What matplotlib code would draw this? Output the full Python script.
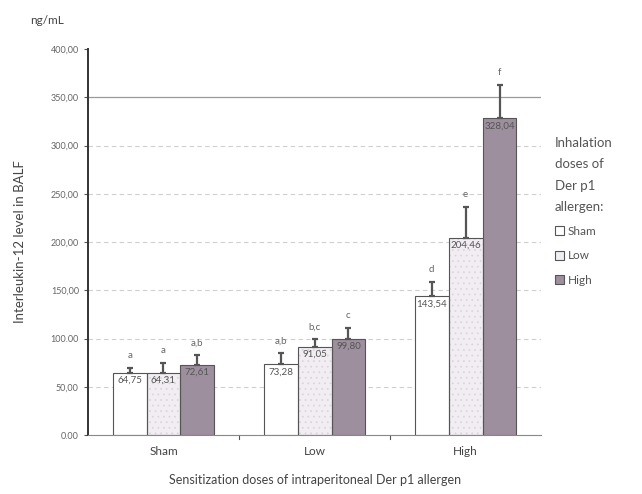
import numpy as np
import matplotlib
matplotlib.use('Agg')
import matplotlib.pyplot as plt
from matplotlib.patches import Patch

plt.rcParams['font.family'] = ['Lato', 'DejaVu Sans']
plt.rcParams['hatch.linewidth'] = 0.5

groups = ['Sham', 'Low', 'High']
series = ['Sham', 'Low', 'High']
means = {
    'Sham': [64.75, 73.28, 143.54],
    'Low': [64.31, 91.05, 204.46],
    'High': [72.61, 99.80, 328.04],
}
errs = {
    'Sham': [4.7, 11.7, 15.0],
    'Low': [10.3, 8.4, 31.8],
    'High': [10.3, 11.1, 34.7],
}
value_labels = {
    'Sham': ['64,75', '73,28', '143,54'],
    'Low': ['64,31', '91,05', '204,46'],
    'High': ['72,61', '99,80', '328,04'],
}
letters = {
    'Sham': ['a', 'a,b', 'd'],
    'Low': ['a', 'b,c', 'e'],
    'High': ['a,b', 'c', 'f'],
}
yticks = [0, 50, 100, 150, 200, 250, 300, 350, 400]
ytick_labels = ['0.00', '50,00', '100.00', '150,00', '200,00', '250,00',
                '300,00', '350,00', '400,00']

colors = {'Sham': 'white', 'Low': '#f1edf2', 'High': '#9d8f9e'}
hatches = {'Sham': None, 'Low': '...', 'High': None}
hatch_col = '#d9d3db'

fig = plt.figure(figsize=(6.42, 4.94), dpi=100)
ax = fig.add_axes([0.137, 0.1194, 0.706, 0.7814])

x = np.arange(len(groups))
w = 0.224
ink = '#555555'

for yv in yticks[1:-1]:
    if yv == 350:
        ax.axhline(yv, color='#9a9a9a', lw=0.9, zorder=0)
    else:
        ax.axhline(yv, color='#cfcfcf', lw=0.8, ls=(0, (4, 3)), zorder=0)

for i, s in enumerate(series):
    xs = x + (i - 1) * w
    # fill (with light stipple), then a separate outline on top
    ax.bar(xs, means[s], w, color=colors[s], edgecolor=hatch_col, lw=0,
           hatch=hatches[s], zorder=2)
    ax.bar(xs, means[s], w, fill=False, edgecolor=ink, lw=0.8, zorder=2.5)
    ax.errorbar(xs, means[s], yerr=[np.zeros(3), errs[s]], fmt='none',
                ecolor=ink, elinewidth=1.6, capsize=2.5, capthick=1.6, zorder=3)
    for xi, m, e, vl, lt in zip(xs, means[s], errs[s], value_labels[s], letters[s]):
        ax.text(xi, m - 3, vl, ha='center', va='top', fontsize=7,
                color='#555555', zorder=4)
        ax.text(xi, m + e + 8, lt, ha='center', va='bottom', fontsize=7,
                color='#666666')

ax.set_xlim(-0.5, 2.5)
ax.set_ylim(0, 400)
ax.set_yticks(yticks)
ax.set_yticklabels(ytick_labels, fontsize=6.5, color='#666666')
ax.set_xticks(x)
ax.set_xticklabels(groups, fontsize=8.5, color='#444444')
ax.tick_params(axis='x', length=0, pad=8)
ax.tick_params(axis='y', length=3, color=ink, direction='out')
for xb in [0.5, 1.5]:
    ax.plot([xb, xb], [0, -4], color=ink, lw=0.8, clip_on=False)

for sp in ['top', 'right']:
    ax.spines[sp].set_visible(False)
ax.spines['left'].set_color('#333333')
ax.spines['left'].set_linewidth(1.4)
ax.spines['bottom'].set_color('#888888')

ax.set_ylabel('Interleukin-12 level in BALF', fontsize=9.5, color='#444444',
              labelpad=18)
ax.set_xlabel('Sensitization doses of intraperitoneal Der p1 allergen',
              fontsize=9, color='#444444', labelpad=12)
fig.text(0.047, 0.958, 'ng/mL', fontsize=8.5, color='#444444', va='center')

handles = [Patch(facecolor=colors[s], edgecolor=ink, lw=0.8, label=s)
           for s in series]
leg = fig.legend(handles=handles, loc='upper left',
                 bbox_to_anchor=(0.855, 0.735), frameon=False, fontsize=8.5,
                 title='Inhalation\ndoses of\nDer p1\nallergen:',
                 title_fontsize=9.5, handlelength=0.8, handleheight=0.8,
                 handletextpad=0.3, labelspacing=1.15, borderpad=0)
leg._legend_box.align = 'left'
leg._legend_box.sep = 9
for t in leg.get_texts():
    t.set_color('#555555')
leg.get_title().set_color('#555555')
leg.get_title().set_linespacing(1.95)

fig.savefig('out.png', dpi=100)
